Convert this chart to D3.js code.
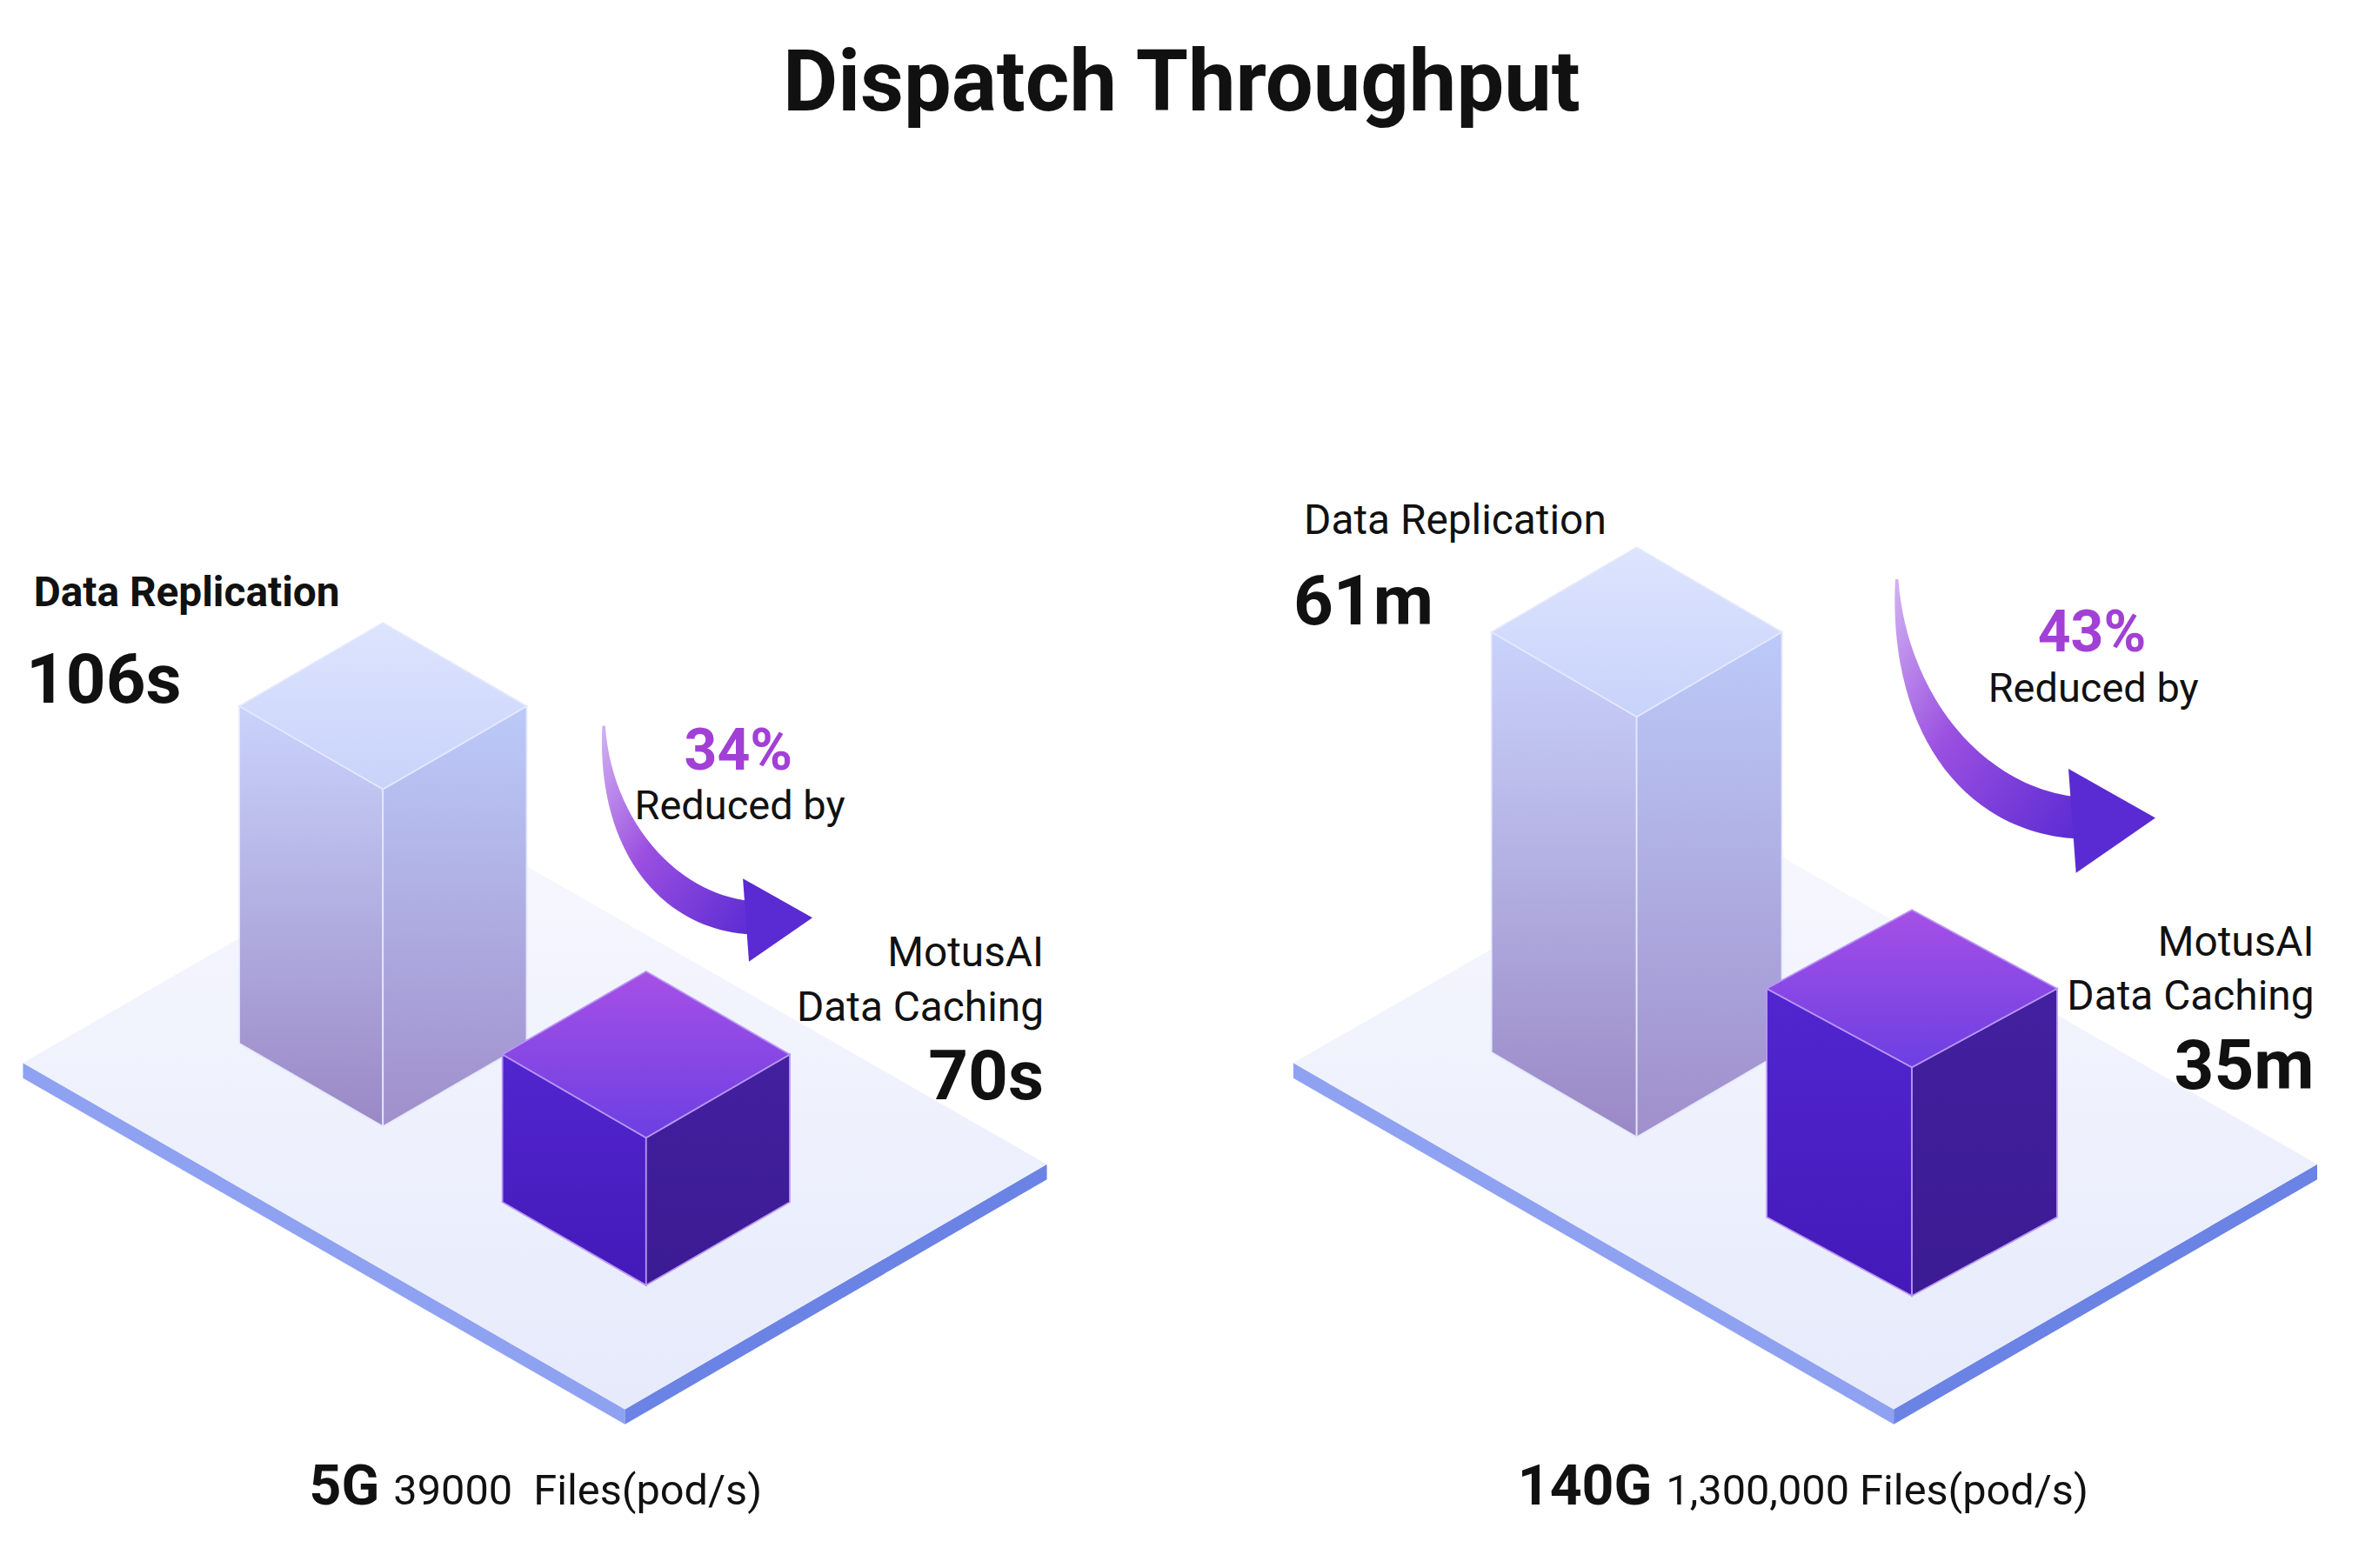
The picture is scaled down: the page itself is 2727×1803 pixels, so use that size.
<!DOCTYPE html>
<html><head><meta charset="utf-8">
<script src="https://cdn.jsdelivr.net/npm/d3@7"></script>
<style>body{margin:0;background:#fff}svg{display:block;font-family:Roboto,"Noto Sans",sans-serif}</style>
</head><body><svg id="c" width="2727" height="1803" viewBox="0 0 1568 1037"></svg>
<script>
const datasets = ["5G", "140G"];
const fileCounts = ["39000  Files(pod/s)", "1,300,000 Files(pod/s)"];
const replicationValues = [106, 61];
const cachingValues = [70, 35];
const units = ["s", "m"];
const reductions = [34, 43];
const seriesNames = ["Data Replication", "MotusAI Data Caching"];

const svg = d3.select("#c");
const defs = svg.append("defs");
function lg(id, stops, x2 = 0, y2 = 1) {
  const g = defs.append("linearGradient").attr("id", id).attr("x1", 0).attr("y1", 0).attr("x2", x2).attr("y2", y2);
  stops.forEach(([o, c]) => g.append("stop").attr("offset", o).attr("stop-color", c));
}
lg("tallL", [[0, "#c9d3fb"], [1, "#9a88c6"]]);
lg("tallR", [[0, "#bccaf9"], [1, "#a08fcb"]]);
lg("tallT", [[0, "#dde4fd"], [1, "#c8d3fb"]]);
lg("cubeT", [[0, "#a650e6"], [1, "#6c3fe2"]]);
lg("cubeL", [[0, "#5226d0"], [1, "#4419b8"]]);
lg("cubeR", [[0, "#43209f"], [1, "#3b1b93"]]);
lg("plat", [[0, "#f7f8fe"], [1, "#e6eafb"]]);
lg("arrow", [[0, "#d2b4f2"], [0.45, "#9a4fe0"], [1, "#5a2bd2"]], 1, 1);

svg.append("text").attr("x", 781).attr("y", 73).attr("text-anchor", "middle")
  .attr("font-size", 56).attr("font-weight", 700).attr("fill", "#111").text("Dispatch Throughput");

const layout = [
  { tall: { cx: 253, by: 745, hw: 95, hh: 55 }, cube: { cx: 427, by: 850, hw: 95, hh: 55 }, dom: [42, 106], px: 223,
    arrow: { tx: 398, ty: 480, px: 537, py: 607, s: 1 }, pct: [488, 495], rep: [22, 392, 17, 450], repBold: true,
    cach: [690, 630], bottom: [354, 985] },
  { tall: { cx: 1082, by: 752, hw: 96, hh: 56 }, cube: { cx: 1264, by: 857, hw: 96, hh: 52 }, dom: [4, 61], px: 278,
    arrow: { tx: 1253, ty: 383, px: 1425, py: 541, s: 1.25 }, pct: [1383, 417], rep: [862, 344, 855, 398], repBold: false,
    cach: [1530, 623], bottom: [1192, 985] }
];
const plats = [
  { l: [15, 703], b: [413, 932], r: [692, 770], t: [294, 542] },
  { l: [855, 703], b: [1252, 932], r: [1532, 770], t: [1135, 542] }
];

function box(g, p, h, ids, stroke) {
  const { cx, by, hw, hh } = p;
  const fy = by - h;
  const sy = fy - hh;
  const pts = a => a.map(q => q.join(",")).join(" ");
  g.append("polygon").attr("points", pts([[cx - hw, by - hh], [cx, by], [cx, fy], [cx - hw, sy]]))
    .attr("fill", `url(#${ids[0]})`).attr("stroke", stroke).attr("stroke-width", 1);
  g.append("polygon").attr("points", pts([[cx, by], [cx + hw, by - hh], [cx + hw, sy], [cx, fy]]))
    .attr("fill", `url(#${ids[1]})`).attr("stroke", stroke).attr("stroke-width", 1);
  g.append("polygon").attr("points", pts([[cx, sy - hh], [cx + hw, sy], [cx, fy], [cx - hw, sy]]))
    .attr("fill", `url(#${ids[2]})`).attr("stroke", stroke).attr("stroke-width", 1);
}

layout.forEach((L, i) => {
  const g = svg.append("g");
  const P = plats[i], th = 10;
  g.append("polygon").attr("points", [P.l, P.b, [P.b[0], P.b[1] + th], [P.l[0], P.l[1] + th]].map(q => q.join(",")).join(" ")).attr("fill", "#8fa2f2");
  g.append("polygon").attr("points", [P.b, P.r, [P.r[0], P.r[1] + th], [P.b[0], P.b[1] + th]].map(q => q.join(",")).join(" ")).attr("fill", "#6b83e4");
  g.append("polygon").attr("points", [P.l, P.b, P.r, P.t].map(q => q.join(",")).join(" ")).attr("fill", "url(#plat)");

  const y = d3.scaleLinear().domain(L.dom).range([0, L.px]);
  box(g, L.tall, y(replicationValues[i]), ["tallL", "tallR", "tallT"], "#e4e8fd");
  box(g, L.cube, y(cachingValues[i]), ["cubeL", "cubeR", "cubeT"], "#b995f5");

  const A = L.arrow, s = A.s;
  const bx = A.px - 42 * s, by = A.py;
  const body = `M${A.tx},${A.ty} C${A.tx - 4 * s},${A.ty + 80 * s} ${bx - 60 * s},${by + 8 * s} ${bx + 2},${by + 11 * s}
    L${bx + 2},${by - 11 * s} C${bx - 50 * s},${by - 16 * s} ${A.tx + 6 * s},${A.ty + 60 * s} ${A.tx + 2},${A.ty} Z`;
  g.append("path").attr("d", body).attr("fill", "url(#arrow)");
  g.append("path").attr("d", `M${bx - 4 * s},${by - 26 * s} L${A.px},${A.py} L${bx},${by + 29 * s} Z`).attr("fill", "#5a2bd2");

  g.append("text").attr("x", L.pct[0]).attr("y", L.pct[1] + 14).attr("text-anchor", "middle").attr("font-size", 38)
    .attr("font-weight", 700).attr("fill", "#a240d6").text(reductions[i] + "%");
  g.append("text").attr("x", L.pct[0] + 1).attr("y", L.pct[1] + 47).attr("text-anchor", "middle").attr("font-size", 27)
    .attr("fill", "#111").text("Reduced by");

  g.append("text").attr("x", L.rep[0]).attr("y", L.rep[1] + 9).attr("font-size", 27.5)
    .attr("font-weight", L.repBold ? 700 : 400).attr("fill", "#111").text(seriesNames[0]);
  g.append("text").attr("x", L.rep[2]).attr("y", L.rep[3] + 15).attr("font-size", 46).attr("font-weight", 700)
    .attr("fill", "#111").text(replicationValues[i] + units[i]);

  g.append("text").attr("x", L.cach[0]).attr("y", L.cach[1] + 9).attr("text-anchor", "end").attr("font-size", 27.5).attr("fill", "#111").text("MotusAI");
  g.append("text").attr("x", L.cach[0]).attr("y", L.cach[1] + 45).attr("text-anchor", "end").attr("font-size", 27.5).attr("fill", "#111").text("Data Caching");
  g.append("text").attr("x", L.cach[0]).attr("y", L.cach[1] + 97).attr("text-anchor", "end").attr("font-size", 46)
    .attr("font-weight", 700).attr("fill", "#111").text(cachingValues[i] + units[i]);

  const t = g.append("text").attr("x", L.bottom[0]).attr("y", L.bottom[1] + 10).attr("text-anchor", "middle").attr("fill", "#111");
  t.append("tspan").attr("font-size", 37).attr("font-weight", 700).text(datasets[i] + " ");
  t.append("tspan").attr("font-size", 28).attr("xml:space", "preserve").text(fileCounts[i]);
});
</script></body></html>
